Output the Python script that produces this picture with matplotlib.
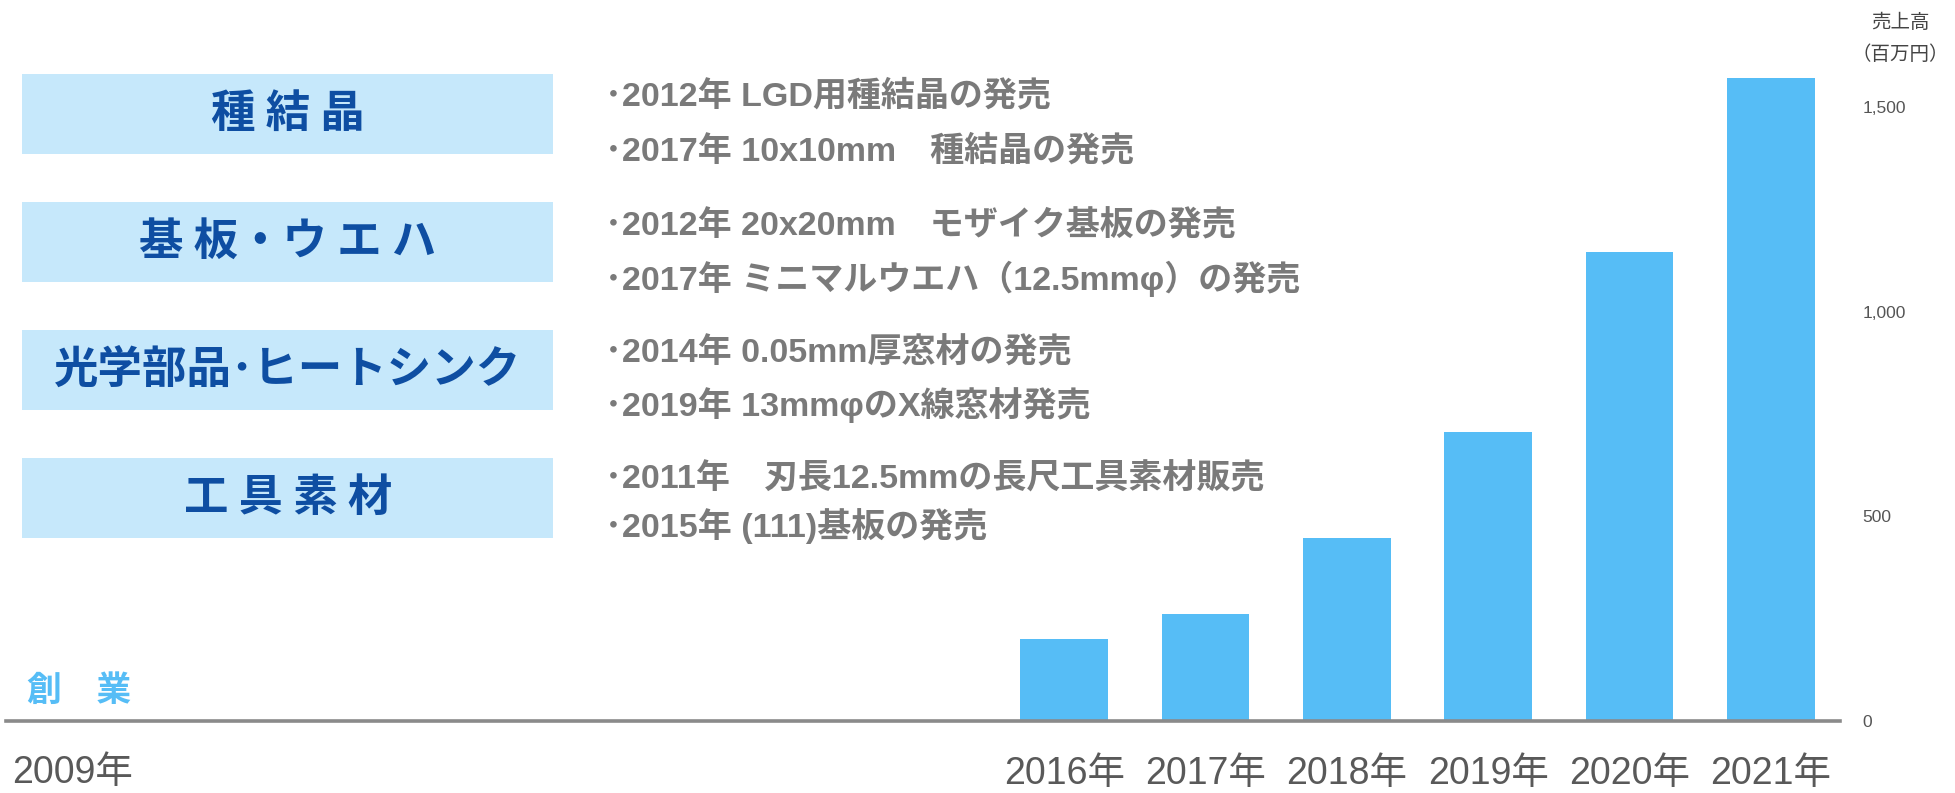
import matplotlib
matplotlib.use("Agg")
import matplotlib.pyplot as plt
from matplotlib.patches import Rectangle
from matplotlib.ticker import FuncFormatter

JP = ['Noto Sans CJK JP', 'DejaVu Sans']
NUM_JP = ['Liberation Sans', 'Noto Sans CJK JP']

# sales data (million yen)
years = ['2016年', '2017年', '2018年', '2019年', '2020年', '2021年']
sales = [201, 262, 448, 707, 1146, 1570]
yticks = [0, 500, 1000, 1500]

# product categories and milestones
categories = ['種 結 晶', '基 板・ウ エ ハ', '光学部品･ヒートシンク', '工 具 素 材']
milestones = [
    ['･2012年 LGD用種結晶の発売', '･2017年 10x10mm　種結晶の発売'],
    ['･2012年 20x20mm　モザイク基板の発売', '･2017年 ミニマルウエハ（12.5mmφ）の発売'],
    ['･2014年 0.05mm厚窓材の発売', '･2019年 13mmφのX線窓材発売'],
    ['･2011年　刃長12.5mmの長尺工具素材販売', '･2015年 (111)基板の発売'],
]
founding_year = '2009年'
founding_label = '創　業'

W, H = 1956, 793
fig = plt.figure(figsize=(W / 100, H / 100), dpi=100)

# bar chart axes
px_per_unit = 614 / 1500
ymax = 1750
ax = fig.add_axes([6 / W, 72 / H, 1834 / W, ymax * px_per_unit / H])
x = list(range(len(years)))
ax.bar(x, sales, width=0.62, color='#56BDF6', zorder=2)
ax.set_xlim(-7.49, 5.49)
ax.set_ylim(0, ymax)
for s in ['top', 'left', 'right']:
    ax.spines[s].set_visible(False)
ax.spines['bottom'].set_color('#8a8a8a')
ax.spines['bottom'].set_linewidth(2.6)
ax.yaxis.tick_right()
ax.set_yticks(yticks)
ax.yaxis.set_major_formatter(FuncFormatter(lambda v, p: f"{int(v):,}"))
ax.tick_params(axis='y', length=0, pad=16, labelsize=12.5, labelcolor='#555555')
ax.set_xticks(x)
ax.set_xticklabels(years, family=NUM_JP, fontsize=27, color='#595959')
ax.tick_params(axis='x', length=0, pad=25)
for lab in ax.get_yticklabels():
    lab.set_family(['Liberation Sans', 'DejaVu Sans'])

# overlay in pixel coordinates for the text panel
ov = fig.add_axes([0, 0, 1, 1], facecolor='none')
ov.set_xlim(0, W)
ov.set_ylim(H, 0)
ov.axis('off')

box_centers = [114, 242, 370, 498]
line_y = [(96, 151), (226, 279), (353, 405), (479, 526)]
for cat, yc, lines, ly in zip(categories, box_centers, milestones, line_y):
    ov.add_patch(Rectangle((22, yc - 40), 531, 80, facecolor='#C6E8FB', edgecolor='none'))
    ov.text(288, yc, cat, ha='center', va='center', fontsize=32, fontweight='bold',
            color='#0E4EA2', family=JP)
    for t, yy in zip(lines, ly):
        ov.text(605, yy, t, ha='left', va='center', fontsize=24.5, fontweight='bold',
                color='#7a7a7a', family=NUM_JP)

ov.text(27, 690, founding_label, ha='left', va='center', fontsize=25, fontweight='bold',
        color='#56BDF6', family=JP)
ov.text(12, 773, founding_year, ha='left', va='center', fontsize=27, color='#595959',
        family=NUM_JP)

ov.text(1900, 22, '売上高', ha='center', va='center', fontsize=14, color='#444444', family=JP)
ov.text(1900, 54, '（百万円）', ha='center', va='center', fontsize=14, color='#444444', family=JP)

fig.savefig('out.png', dpi=100)
